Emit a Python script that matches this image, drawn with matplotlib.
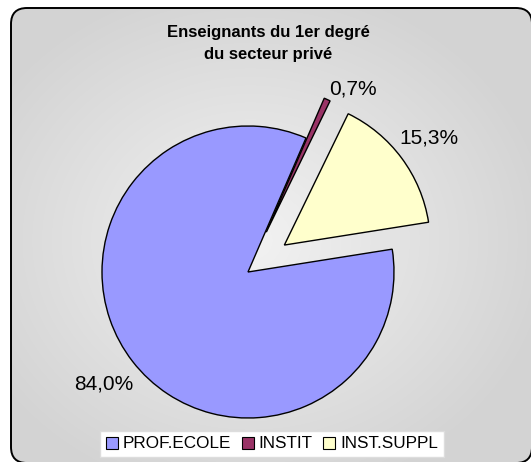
"""Pie chart: Enseignants du 1er degré du secteur privé."""

import matplotlib
matplotlib.use("Agg")
import matplotlib.pyplot as plt
import numpy as np
from matplotlib.patches import FancyBboxPatch

plt.rcParams["font.family"] = ["Liberation Sans", "DejaVu Sans"]

categories = ["PROF.ECOLE", "INSTIT", "INST.SUPPL"]
shares = [84.0, 0.7, 15.3]
colors = ["#9999FF", "#993366", "#FFFFCC"]
explode = [0.0, 0.30, 0.31]
label_dist = [1.25, 1.15, 1.23]
label_turn = [0, -6.5, 0]  # degrees, small nudge of label direction

W, H = 531, 462
fig = plt.figure(figsize=(W / 100, H / 100), dpi=100)
fig.patch.set_facecolor("white")

# background panel in pixel coordinates
bg = fig.add_axes([0, 0, 1, 1])
bg.set_xlim(0, W)
bg.set_ylim(H, 0)
bg.axis("off")
panel = FancyBboxPatch((11, 8), 521, 455, boxstyle="round,pad=0,rounding_size=16",
                       facecolor="none", edgecolor="black", linewidth=1.4, zorder=3)
bg.add_patch(panel)
yy, xx = np.mgrid[0:H, 0:W]
dist = np.hypot((xx - 250) / 300, (yy - 240) / 260)
shade = np.clip(0.95 - 0.12 * dist, 0.83, 0.95)
img = bg.imshow(np.dstack([shade] * 3), extent=(0, W, H, 0), zorder=1)
img.set_clip_path(panel)

bg.text(268, 32, "Enseignants du 1er degré", ha="center", va="center",
        fontsize=12, fontweight="bold")
bg.text(268, 55, "du secteur privé", ha="center", va="center",
        fontsize=12, fontweight="bold")

# pie axes: 1 data unit = 146 px, centre at (248, 272) px
R = 146
S = 400
cx, cy = 248, 272
ax = fig.add_axes([(cx - S / 2) / W, (H - cy - S / 2) / H, S / W, S / H])
wedges, _ = ax.pie(shares, explode=explode, colors=colors, startangle=9,
                   counterclock=False,
                   wedgeprops=dict(edgecolor="black", linewidth=1.0))
ax.set_xlim(-S / 2 / R, S / 2 / R)
ax.set_ylim(-S / 2 / R, S / 2 / R)
ax.set_aspect("equal")
ax.axis("off")

for w, val, d, turn in zip(wedges, shares, label_dist, label_turn):
    theta = np.deg2rad((w.theta1 + w.theta2) / 2 + turn)
    x0, y0 = w.center
    ax.text(x0 + d * w.r * np.cos(theta), y0 + d * w.r * np.sin(theta),
            f"{val:.1f}%".replace(".", ","), ha="center", va="center",
            fontsize=15, clip_on=False)

leg = fig.legend(wedges, categories, ncol=3, loc="center",
                 bbox_to_anchor=(272 / W, 1 - 444 / H), fontsize=12.3,
                 frameon=True, fancybox=False, edgecolor="#dddddd",
                 facecolor="white", framealpha=1, handlelength=0.7,
                 handleheight=0.7, handletextpad=0.3, columnspacing=0.6,
                 borderpad=0.35)
for h in leg.legend_handles:
    h.set_linewidth(0.8)

fig.savefig("out.png", dpi=100)
